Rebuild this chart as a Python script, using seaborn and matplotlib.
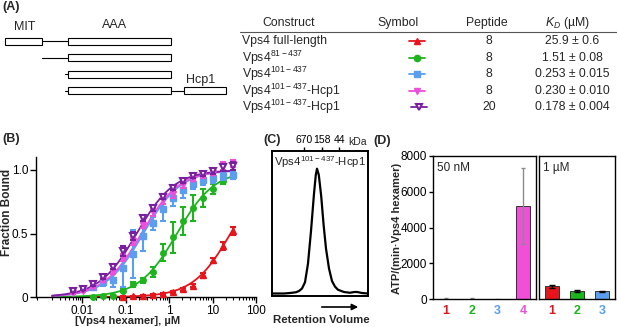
import numpy as np
import pandas as pd
import matplotlib
matplotlib.use("Agg")
import matplotlib.pyplot as plt
from matplotlib.patches import Rectangle
from matplotlib.ticker import LogLocator, NullFormatter
import seaborn as sns

# ---------------- data ----------------
# Panel A table
construct_labels = ["Vps4 full-length",
                    r"Vps4$^{\mathrm{81-437}}$",
                    r"Vps4$^{\mathrm{101-437}}$",
                    r"Vps4$^{\mathrm{101-437}}$-Hcp1",
                    r"Vps4$^{\mathrm{101-437}}$-Hcp1"]
peptides = ["8", "8", "8", "8", "20"]
kd_text = ["25.9 ± 0.6", "1.51 ± 0.08", "0.253 ± 0.015", "0.230 ± 0.010", "0.178 ± 0.004"]
kd_values = [25.9, 1.51, 0.253, 0.230, 0.178]
series_names = ["FL", "81", "101", "Hcp1_8", "Hcp1_20"]
series_colors = ["#e8141c", "#1eb41e", "#5a9ef0", "#ec4fdc", "#7a1fa0"]
series_markers = ["^", "o", "s", "v", "v"]

# Panel A schematic (domain extents, schematic units)
mit_domain = (5, 42)
aaa_domain = (68, 171)
hcp1_domain = (184, 226)
construct_start = [5, 42, 65, 65]

# Panel B binding data
conc = [0.0061, 0.0104, 0.0176, 0.030, 0.051, 0.087, 0.147, 0.25, 0.43,
        0.73, 1.24, 2.1, 3.6, 6.1, 10.4, 17.6, 30.0]
purple_y = [0.047, 0.063, 0.10, 0.16, 0.24, 0.36, 0.48, 0.62, 0.70, 0.79,
            0.86, 0.91, 0.95, 0.97, 0.99, 1.02, 1.03]
purple_err = [0.01, 0.01, 0.01, 0.015, 0.02, 0.04, 0.03, 0.02, 0.02, 0.02,
              0.015, 0.01, 0.01, 0.015, 0.02, 0.03, 0.03]
pink_y = [0.03, 0.05, 0.08, 0.13, 0.20, 0.31, 0.44, 0.57, 0.67, 0.76,
          0.81, 0.88, 0.93, 0.96, 0.98, 1.03, 1.05]
pink_err = [0.01, 0.01, 0.01, 0.015, 0.02, 0.03, 0.03, 0.03, 0.03, 0.03,
            0.03, 0.02, 0.02, 0.02, 0.02, 0.03, 0.03]
blue_conc = conc[2:]
blue_y = [0.08, 0.12, 0.13, 0.23, 0.34, 0.48, 0.58, 0.69, 0.78, 0.84,
          0.89, 0.92, 0.94, 0.95, 0.96]
blue_err = [0.02, 0.03, 0.05, 0.15, 0.19, 0.12, 0.05, 0.09, 0.06, 0.06,
            0.04, 0.04, 0.04, 0.03, 0.03]
green_conc = conc[2:]
green_y = [0.00, 0.01, 0.01, 0.05, 0.10, 0.13, 0.20, 0.35, 0.47, 0.60,
           0.70, 0.78, 0.85, 0.91, 0.95]
green_err = [0.005, 0.005, 0.005, 0.01, 0.02, 0.02, 0.04, 0.07, 0.12, 0.11,
             0.10, 0.07, 0.04, 0.02, 0.02]
red_conc = conc[5:]
red_y = [0.00, 0.005, 0.01, 0.015, 0.025, 0.04, 0.06, 0.09, 0.17, 0.29, 0.40, 0.52]
red_err = [0.004, 0.004, 0.005, 0.005, 0.006, 0.008, 0.01, 0.015, 0.02, 0.02, 0.03, 0.03]

# Panel C size-exclusion trace
sec_volume = [6, 8, 9, 10, 10.5, 11, 11.5, 12, 12.5, 13.0, 13.3, 13.5, 13.8,
              14.2, 14.6, 15.0, 15.5, 16, 16.5, 17, 18, 19, 19.7, 20.2, 21, 22]
sec_signal = [0.0, 0.0, 0.004, 0.01, 0.02, 0.04, 0.09, 0.24, 0.50, 0.80, 0.95,
              1.0, 0.95, 0.78, 0.55, 0.36, 0.20, 0.10, 0.055, 0.03, 0.012,
              0.006, 0.012, 0.012, 0.004, 0.0]
mw_volume = [11.4, 14.4, 17.2]
mw_labels = ["670", "158", "44"]

# Panel D ATPase
left_labels = ["1", "2", "3", "4"]
left_rates = [10, 5, -30, 5200]
left_err = [70, 70, 30, 2150]
left_colors = ["#e8141c", "#1eb41e", "#5a9ef0", "#f050d8"]
right_labels = ["1", "2", "3"]
right_rates = [700, 450, 420]
right_err = [110, 80, 40]
right_colors = ["#e8141c", "#1eb41e", "#5a9ef0"]

# ---------------- style ----------------
sns.set_theme(style="ticks")
plt.rcParams["font.family"] = ["Liberation Sans", "DejaVu Sans"]
plt.rcParams["mathtext.fontset"] = "custom"
plt.rcParams["mathtext.rm"] = "Liberation Sans"
plt.rcParams["mathtext.it"] = "Liberation Sans:italic"
plt.rcParams["mathtext.bf"] = "Liberation Sans:bold"
plt.rcParams["axes.edgecolor"] = "black"
plt.rcParams["xtick.color"] = "black"
plt.rcParams["ytick.color"] = "black"

W, H = 617, 327
fig = plt.figure(figsize=(W / 100, H / 100), dpi=100)


def rect(x0, y0, x1, y1):
    return [x0 / W, 1 - y1 / H, (x1 - x0) / W, (y1 - y0) / H]


def ftext(x, y, s, **kw):
    fig.text(x / W, 1 - y / H, s, **kw)


# ---------------- Panel A ----------------
axA = fig.add_axes([0, 1 - 120 / H, 1, 120 / H])
axA.set_xlim(0, W)
axA.set_ylim(120, 0)
axA.axis("off")
row_y = [41 + 16.6 * i for i in range(5)]
bh = 7


def box(x0, x1, yc):
    axA.add_patch(Rectangle((x0, yc - bh / 2), x1 - x0, bh, fc="white",
                            ec="black", lw=0.8))


def link(x0, x1, yc):
    axA.plot([x0, x1], [yc, yc], color="black", lw=0.8)


for i, st in enumerate(construct_start):
    yc = row_y[i]
    if i == 0:
        box(*mit_domain, yc)
        link(mit_domain[1], aaa_domain[0], yc)
    else:
        link(st, aaa_domain[0], yc)
    box(*aaa_domain, yc)
    if i == 3:
        link(aaa_domain[1], hcp1_domain[0], yc)
        box(*hcp1_domain, yc)

axA.text(25, 27, "MIT", ha="center", va="center", fontsize=9)
axA.text(115, 25, "AAA", ha="center", va="center", fontsize=9)
axA.text(201, 80, "Hcp1", ha="center", va="center", fontsize=9)

axA.text(289, 23, "Construct", ha="center", va="center", fontsize=8.8)
axA.text(398, 23, "Symbol", ha="center", va="center", fontsize=8.8)
axA.text(487, 23, "Peptide", ha="center", va="center", fontsize=8.8)
axA.text(567, 23, r"$K_D$ (µM)", ha="center", va="center", fontsize=8.8)
axA.plot([240, W], [32, 32], color="#555555", lw=0.8)
for i in range(5):
    yc = row_y[i]
    axA.text(242, yc, construct_labels[i], ha="left", va="center", fontsize=8.8)
    axA.text(489, yc, peptides[i], ha="center", va="center", fontsize=8.8)
    axA.text(572, yc, kd_text[i], ha="center", va="center", fontsize=8.8)
    sx = 417 + (2 if i == 4 else 0)
    axA.plot([sx - 8, sx + 8], [yc, yc], color=series_colors[i], lw=1.3)
    if i == 4:
        axA.plot([sx], [yc], marker="v", ms=5, mfc="white",
                 mec=series_colors[i], mew=1.5, ls="none")
    else:
        axA.plot([sx], [yc], marker=series_markers[i], ms=4.5,
                 color=series_colors[i], ls="none")

# ---------------- Panel B ----------------
axB = fig.add_axes(rect(36, 157.3, 256, 297))
grid = np.logspace(np.log10(0.002), np.log10(32), 200)
curve_rows = []
for name, kd in zip(series_names, kd_values):
    for g in grid:
        curve_rows.append((name, g, g / (kd + g)))
curve_df = pd.DataFrame(curve_rows, columns=["construct", "conc", "frac"])
sns.lineplot(data=curve_df, x="conc", y="frac", hue="construct",
             hue_order=series_names, palette=dict(zip(series_names, series_colors)),
             legend=False, linewidth=1.3, ax=axB)

pts = [(red_conc, red_y, red_err), (green_conc, green_y, green_err),
       (blue_conc, blue_y, blue_err), (conc, pink_y, pink_err),
       (conc, purple_y, purple_err)]
for k, (xs, ys, es) in enumerate(pts):
    c = series_colors[k]
    kw = dict(fmt=series_markers[k], color=c, ecolor=c, elinewidth=1.5,
              capsize=2.2, capthick=1.5, clip_on=False, zorder=3 + k)
    if k == 4:
        kw.update(ms=5, mfc="white", mec=c, mew=1.5)
    else:
        kw.update(ms=4)
    axB.errorbar(xs, ys, yerr=es, **kw)

axB.set_xscale("log")
axB.set_xlim(0.00085, 100)
axB.set_ylim(0, 1.1)
axB.set_xticks([0.01, 0.1, 1, 10, 100])
axB.set_xticklabels(["0.01", "0.1", "1", "10", "100"])
axB.xaxis.set_minor_locator(LogLocator(base=10, subs=np.arange(2, 10)))
axB.xaxis.set_minor_formatter(NullFormatter())
axB.set_yticks([0, 0.5, 1.0])
axB.set_yticklabels(["0", "0.5", "1.0"])
axB.tick_params(axis="both", which="major", direction="out", length=4,
                width=1, labelsize=8.5, pad=1.5)
axB.tick_params(axis="x", which="minor", direction="out", length=2, width=0.8)
for s in ["top", "right"]:
    axB.spines[s].set_visible(False)
for s in ["left", "bottom"]:
    axB.spines[s].set_linewidth(1)
axB.set_xlabel("")
axB.set_ylabel("")
ftext(128, 321.5, "[Vps4 hexamer], µM", ha="center", va="center",
      fontsize=8, fontweight="bold")
ftext(7, 212, "Fraction Bound", ha="center", va="center", rotation=90,
      fontsize=8.5, fontweight="bold")

# ---------------- Panel C ----------------
axC = fig.add_axes(rect(272, 150.7, 368, 296))
sns.lineplot(x=sec_volume, y=sec_signal, color="black", linewidth=1.6, ax=axC)
axC.set_xlim(6, 22)
axC.set_ylim(-0.02, 1.144)
axC.xaxis.tick_top()
axC.set_xticks(mw_volume)
axC.set_xticklabels(mw_labels)
axC.set_yticks([])
axC.tick_params(axis="x", direction="out", length=3, width=1,
                labelsize=7.5, pad=1)
for s in axC.spines.values():
    s.set_linewidth(1.4)
axC.text(0.5, 0.975, r"Vps4$^{\mathrm{101-437}}$-Hcp1", transform=axC.transAxes,
         ha="center", va="top", fontsize=8.2)
ftext(348, 142.5, "kDa", ha="left", va="center", fontsize=7.5)
axC.annotate("", xy=(361 / W, 1 - 307 / H), xytext=(319 / W, 1 - 307 / H),
             xycoords="figure fraction", textcoords="figure fraction",
             arrowprops=dict(arrowstyle="-|>", color="black", lw=1.2,
                             mutation_scale=9))
ftext(321, 320, "Retention Volume", ha="center", va="center",
      fontsize=8.2, fontweight="bold")

# ---------------- Panel D ----------------
axL = fig.add_axes(rect(433, 156, 536, 299))
axR = fig.add_axes(rect(539, 156, 615, 299))
dfl = pd.DataFrame({"construct": left_labels, "rate": left_rates})
dfr = pd.DataFrame({"construct": right_labels, "rate": right_rates})
sns.barplot(data=dfl, x="construct", y="rate", hue="construct",
            palette=dict(zip(left_labels, left_colors)), legend=False,
            errorbar=None, width=0.55, edgecolor="#333333", linewidth=0.7,
            saturation=1, ax=axL)
sns.barplot(data=dfr, x="construct", y="rate", hue="construct",
            palette=dict(zip(right_labels, right_colors)), legend=False,
            errorbar=None, width=0.55, edgecolor="#333333", linewidth=0.7,
            saturation=1, ax=axR)
axL.errorbar(range(len(left_rates)), left_rates, yerr=left_err, fmt="none",
             ecolor="#8a8a8a", elinewidth=1, capsize=1.5)
axR.errorbar(range(len(right_rates)), right_rates, yerr=right_err, fmt="none",
             ecolor="black", elinewidth=1, capsize=2)
for ax, cols in [(axL, left_colors), (axR, right_colors)]:
    ax.set_ylim(0, 8000)
    ax.set_xlabel("")
    ax.set_ylabel("")
    for s in ax.spines.values():
        s.set_visible(True)
        s.set_linewidth(1)
    ax.tick_params(axis="x", length=0, pad=4)
    for lbl, c in zip(ax.get_xticklabels(), cols):
        lbl.set_color(c)
        lbl.set_fontweight("bold")
        lbl.set_fontsize(9)
axL.set_xlim(-0.5, 3.5)
axR.set_xlim(-0.5, 2.5)
axL.set_yticks([0, 2000, 4000, 6000, 8000])
axL.tick_params(axis="y", direction="out", length=3, width=1, labelsize=8.5, pad=1.5)
axR.set_yticks([])
axL.text(0.04, 0.96, "50 nM", transform=axL.transAxes, ha="left", va="top", fontsize=8.5)
axR.text(0.05, 0.96, "1 µM", transform=axR.transAxes, ha="left", va="top", fontsize=8.5)
ftext(397, 228, "ATP/(min·Vps4 hexamer)", ha="center", va="center",
      rotation=90, fontsize=8, fontweight="bold")

# ---------------- panel labels ----------------
for lab, x, y in [("(A)", 2, 7), ("(B)", 2, 139), ("(C)", 263, 140), ("(D)", 373, 141)]:
    ftext(x, y, lab, ha="left", va="center", fontsize=9, fontweight="bold")

fig.savefig("out.png", dpi=100)
